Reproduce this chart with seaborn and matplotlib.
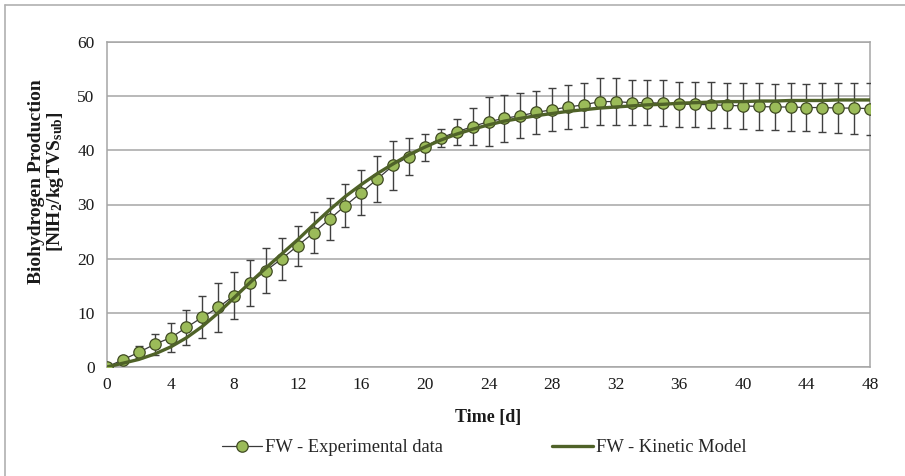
import matplotlib
matplotlib.use("Agg")
import matplotlib.pyplot as plt
from matplotlib.lines import Line2D
import seaborn as sns
import pandas as pd
import numpy as np

# ---- data ----
days = list(range(0, 49))
exp_values = [0, 1.35, 2.7, 4.2, 5.4, 7.3, 9.2, 11.0, 13.2, 15.5, 17.8, 20.0, 22.4,
              24.8, 27.3, 29.8, 32.2, 34.7, 37.2, 38.85, 40.6, 42.3, 43.4, 44.4, 45.3,
              45.9, 46.4, 47.0, 47.5, 48.0, 48.4, 49.0, 49.0, 48.8, 48.8, 48.7, 48.5,
              48.5, 48.4, 48.3, 48.2, 48.1, 48.0, 48.0, 47.9, 47.9, 47.8, 47.8, 47.7]
exp_errors = [0, 0.3, 1.1, 1.9, 2.7, 3.2, 3.9, 4.5, 4.4, 4.3, 4.1, 3.9, 3.7,
              3.8, 3.9, 4.0, 4.1, 4.3, 4.5, 3.4, 2.5, 1.7, 2.4, 3.5, 4.5,
              4.3, 4.2, 4.0, 4.0, 4.1, 4.1, 4.3, 4.3, 4.2, 4.2, 4.2, 4.2,
              4.2, 4.2, 4.2, 4.3, 4.3, 4.3, 4.4, 4.4, 4.5, 4.6, 4.7, 4.8]
model_values = [0, 0.7, 1.4, 2.4, 3.7, 5.4, 7.5, 10.0, 12.8, 15.6, 18.3, 20.9, 23.5,
                26.3, 29.0, 31.5, 33.7, 35.7, 37.5, 39.2, 40.6, 41.9, 43.0, 43.9, 44.7,
                45.4, 45.9, 46.4, 46.8, 47.2, 47.5, 47.8, 48.0, 48.2, 48.4, 48.5, 48.7,
                48.8, 48.9, 49.0, 49.0, 49.1, 49.1, 49.2, 49.2, 49.2, 49.3, 49.3, 49.3]
x_ticks = list(range(0, 49, 4))
y_ticks = [0, 10, 20, 30, 40, 50, 60]
series_labels = ["FW - Experimental data", "FW - Kinetic Model"]
x_title = "Time [d]"
y_title = "Biohydrogen Production\n[NlH$_2$/kgTVS$_{sub}$]"

df_exp = pd.DataFrame({"day": days, "value": exp_values, "err": exp_errors})
df_mod = pd.DataFrame({"day": days, "value": model_values})

# ---- style ----
sns.set_theme(style="white")
plt.rcParams["font.family"] = ["Liberation Serif", "DejaVu Serif"]
plt.rcParams["mathtext.default"] = "regular"

W, H = 905, 476
fig = plt.figure(figsize=(W / 100, H / 100), dpi=100)
ax = fig.add_axes([107 / W, 1 - 367 / H, 763 / W, 325 / H])

OLIVE_DARK = "#4F6228"
OLIVE_FILL = "#9BBB59"
GRID = "#A6A6A6"

# error bars
ax.errorbar(df_exp["day"], df_exp["value"], yerr=df_exp["err"], fmt="none",
            ecolor="#404040", elinewidth=1.0, capsize=3.2, capthick=1.0, zorder=3)

# experimental data (thin connecting line + markers)
sns.lineplot(data=df_exp, x="day", y="value", ax=ax, color="#3A3A3A", linewidth=0.9,
             marker="o", markersize=8.2, markerfacecolor=OLIVE_FILL,
             markeredgecolor="#3F4A22", markeredgewidth=0.9, zorder=4, legend=False)

# kinetic model
sns.lineplot(data=df_mod, x="day", y="value", ax=ax, color=OLIVE_DARK, linewidth=2.4,
             zorder=5, legend=False)

ax.set_xlim(0, 48)
ax.set_ylim(0, 60)
ax.set_xticks(x_ticks)
ax.set_yticks(y_ticks)
ax.set_xticklabels([str(t) for t in x_ticks])
ax.set_yticklabels([str(t) for t in y_ticks])
ax.tick_params(axis="both", which="both", direction="out", length=5, width=1,
               color=GRID, labelsize=12.5, labelcolor="#1a1a1a")
ax.tick_params(axis="y", pad=4)
ax.tick_params(axis="x", pad=2.5)
ax.yaxis.grid(True, color=GRID, linewidth=1.1)
ax.xaxis.grid(False)
ax.set_axisbelow(True)
for s in ax.spines.values():
    s.set_color(GRID)
    s.set_linewidth(1.1)

ax.set_xlabel(x_title, fontsize=13, fontweight="bold", color="#1a1a1a")
ax.xaxis.set_label_coords(0.5, -0.128)
ax.set_ylabel(y_title, fontsize=14, fontweight="bold", color="#1a1a1a",
              linespacing=1.0)
ax.yaxis.set_label_coords(-0.054, 0.57)

handles = [
    Line2D([], [], color="#3A3A3A", linewidth=0.9, marker="o", markersize=8.2,
           markerfacecolor=OLIVE_FILL, markeredgecolor="#3F4A22", markeredgewidth=0.9),
    Line2D([], [], color=OLIVE_DARK, linewidth=2.4),
]
fig.legend(handles, series_labels, loc="center", bbox_to_anchor=(484 / W, 1 - 448 / H),
           ncol=2, frameon=False, fontsize=13.3, handlelength=2.2, handletextpad=0.15,
           columnspacing=5.9)

# outer frame (top and left edges visible)
fig.add_artist(Line2D([5 / W, 1], [1 - 5 / H, 1 - 5 / H], transform=fig.transFigure,
                      color="#B0B0B0", linewidth=1.2))
fig.add_artist(Line2D([5 / W, 5 / W], [0, 1 - 5 / H], transform=fig.transFigure,
                      color="#B0B0B0", linewidth=1.2))

fig.savefig("out.png", dpi=100, facecolor="white")
